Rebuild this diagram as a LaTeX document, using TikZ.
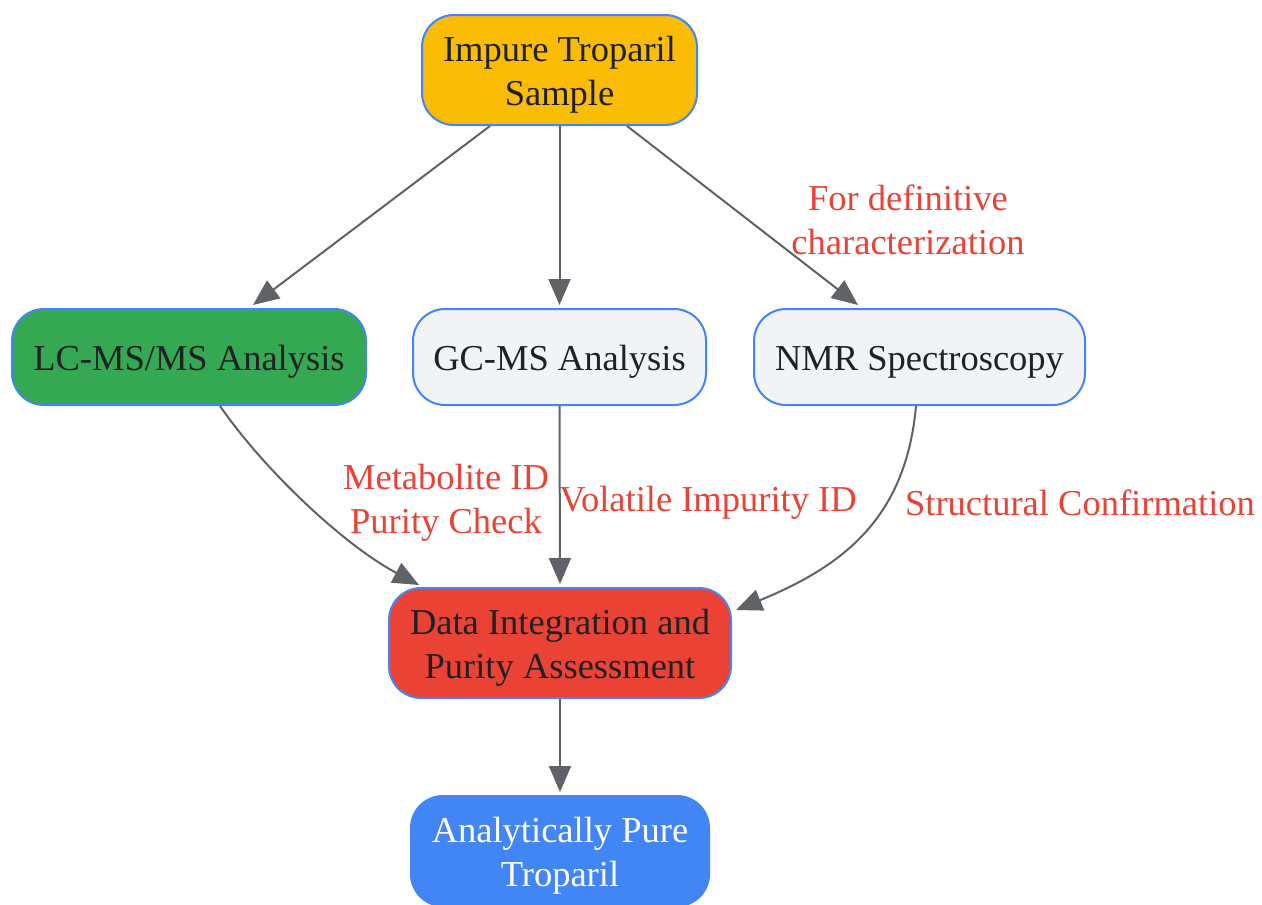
\documentclass[tikz,border=0pt]{standalone}
\usepackage{fontspec}
\setmainfont{Liberation Serif}
\usetikzlibrary{arrows.meta}
\definecolor{cyellow}{HTML}{FBBC05}
\definecolor{cgreen}{HTML}{34A853}
\definecolor{cgray}{HTML}{F1F3F4}
\definecolor{cred}{HTML}{EA4335}
\definecolor{cblue}{HTML}{4285F4}
\definecolor{ctext}{HTML}{202124}
\definecolor{cedge}{HTML}{5F6368}
\begin{document}
\begin{tikzpicture}[x=1pt,y=-1pt,
  box/.style={draw=cblue, line width=2pt, rounded corners=32pt, rectangle, inner sep=0pt},
  boxtext/.style={align=center, text=ctext, inner sep=0pt, yshift=-5pt, font=\fontsize{36.5}{44}\selectfont},
  lbl/.style={text=cred, align=center, inner sep=0pt, font=\fontsize{36.5}{44}\selectfont},
  edge/.style={draw=cedge, line width=2pt, -{Triangle[length=26pt,width=22pt]}}]
\useasboundingbox (0,0) rectangle (1262,905);
\node[box, fill=cyellow, minimum width=275, minimum height=110,
  label={[boxtext]center:{Impure Troparil\\Sample}}] (imp) at (559.5,70) {};
\node[box, fill=cgreen, minimum width=354, minimum height=96,
  label={[boxtext]center:{LC-MS/MS Analysis}}] (lc) at (189,357) {};
\node[box, fill=cgray, minimum width=293, minimum height=96,
  label={[boxtext]center:{GC-MS Analysis}}] (gc) at (559.5,357) {};
\node[box, fill=cgray, minimum width=331, minimum height=96,
  label={[boxtext]center:{NMR Spectroscopy}}] (nmr) at (919.5,357) {};
\node[box, fill=cred, minimum width=342, minimum height=110,
  label={[boxtext]center:{Data Integration and\\Purity Assessment}}] (data) at (560,643) {};
\node[box, fill=cblue, minimum width=298, minimum height=110,
  label={[boxtext, text=white]center:{Analytically Pure\\Troparil}}] (pure) at (560,851) {};

\node[lbl] (l1) at (908,220) {For definitive\\characterization};
\node[lbl] (l2) at (446,503) {Metabolite ID\\Purity Check};
\node[lbl] (l3) at (708,503) {Volatile Impurity ID};
\node[lbl] (l4) at (1080,503) {Structural Confirmation};

\draw[edge] ([xshift=-69.5pt]imp.south) -- ([xshift=64pt,yshift=3pt]lc.north);
\draw[edge] (imp.south) -- ([yshift=3pt]gc.north);
\draw[edge] ([xshift=67.5pt]imp.south) -- ([xshift=-61.5pt,yshift=3pt]nmr.north);
\draw[edge] ([xshift=31pt]lc.south) .. controls +(45,65) and +(-75,-40) .. ([xshift=-141pt,yshift=2pt]data.north);
\draw[edge] (gc.south) -- ([yshift=3pt]data.north);
\draw[edge] ([xshift=-3.5pt]nmr.south) .. controls +(-10,110) and +(110,-45) .. ([xshift=4pt,yshift=33pt]data.east);
\draw[edge] (data.south) -- ([yshift=3pt]pure.north);
\end{tikzpicture}
\end{document}
